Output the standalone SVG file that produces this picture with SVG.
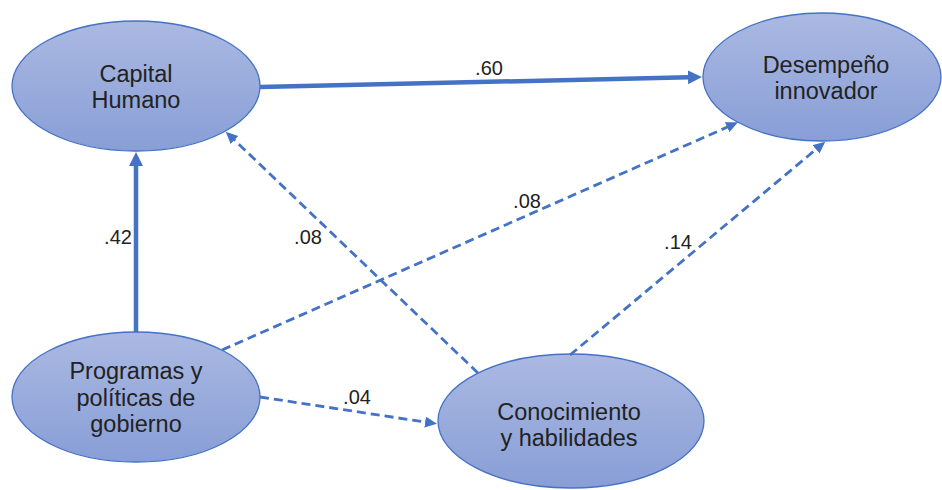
<svg xmlns="http://www.w3.org/2000/svg" width="942" height="490" viewBox="0 0 942 490">
<defs>
<linearGradient id="g" x1="0" y1="0" x2="0" y2="1">
<stop offset="0" stop-color="#abb9e2"/>
<stop offset="1" stop-color="#889ed6"/>
</linearGradient>
<marker id="ah" markerUnits="userSpaceOnUse" markerWidth="16" markerHeight="16" refX="1" refY="7" orient="auto">
<path d="M0,0 L14,7 L0,14 Z" fill="#4472c4"/>
</marker>
<marker id="ad" markerUnits="userSpaceOnUse" markerWidth="14" markerHeight="12" refX="1" refY="5.5" orient="auto">
<path d="M0,0 L12,5.5 L0,11 Z" fill="#4472c4"/>
</marker>
<style>
.n{fill:url(#g);stroke:#4472c4;stroke-width:1.3}
.t{font-family:"Liberation Sans",Arial,sans-serif;font-size:23.5px;fill:#222;text-anchor:middle}
.l{font-family:"Liberation Sans",Arial,sans-serif;font-size:20px;fill:#222;text-anchor:middle}
.s{stroke:#4472c4;stroke-width:4.5;fill:none;marker-end:url(#ah)}
.d{stroke:#4472c4;stroke-width:2.8;fill:none;stroke-dasharray:9 5;marker-end:url(#ad)}
</style>
</defs>
<g id="capital-humano">
<ellipse class="n" cx="136" cy="86" rx="124" ry="65"/>
<text class="t" x="136" y="82">Capital</text>
<text class="t" x="136" y="108">Humano</text>
</g>
<g id="desempeno-innovador">
<ellipse class="n" cx="822" cy="77" rx="119" ry="64"/>
<text class="t" x="826" y="73">Desempeño</text>
<text class="t" x="826" y="99">innovador</text>
</g>
<g id="programas-politicas">
<ellipse class="n" cx="136" cy="397" rx="124" ry="65"/>
<text class="t" x="136" y="379">Programas y</text>
<text class="t" x="136" y="406">políticas de</text>
<text class="t" x="136" y="432">gobierno</text>
</g>
<g id="conocimiento-habilidades">
<ellipse class="n" cx="571" cy="421" rx="133" ry="67"/>
<text class="t" x="569" y="420">Conocimiento</text>
<text class="t" x="569" y="446">y habilidades</text>
</g>
<g id="connectors">
<line class="s" x1="260" y1="87" x2="689" y2="77.3"/>
<line class="s" x1="136" y1="332" x2="136" y2="165"/>
<line class="d" x1="478" y1="373" x2="233.7" y2="139.3"/>
<line class="d" x1="222" y1="350" x2="728" y2="126.8"/>
<line class="d" x1="570" y1="355" x2="816.8" y2="148.7"/>
<line class="d" x1="260" y1="397" x2="426.1" y2="422.2"/>
<text class="l" x="489" y="75">.60</text>
<text class="l" x="118" y="244">.42</text>
<text class="l" x="308" y="244">.08</text>
<text class="l" x="527" y="208">.08</text>
<text class="l" x="678" y="249">.14</text>
<text class="l" x="357" y="404">.04</text>
</g>
</svg>
